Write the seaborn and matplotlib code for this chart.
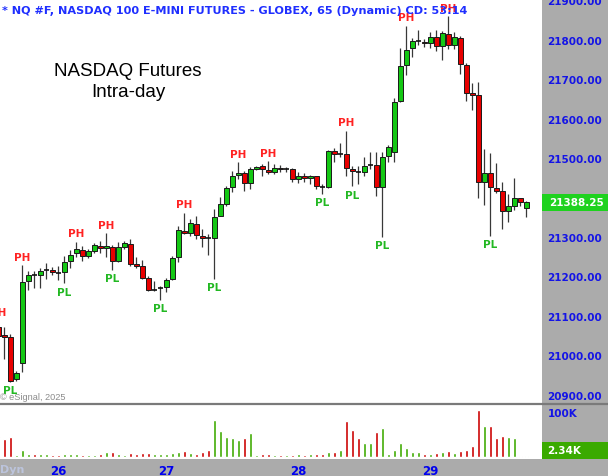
import numpy as np
import pandas as pd
import matplotlib
matplotlib.use("Agg")
import matplotlib.pyplot as plt
import matplotlib.transforms as mtransforms
from matplotlib.patches import Rectangle
from matplotlib.lines import Line2D
import seaborn as sns

# ---------------- data ----------------
bar_index = list(range(-1, 88))
opens = [21072, 21052, 21047, 20941, 20981, 21189, 21204, 21204, 21217, 21217,
         21209, 21212, 21239, 21260, 21267, 21252, 21265, 21277, 21272, 21275,
         21239, 21275, 21282, 21232, 21227, 21196, 21166, 21171, 21174, 21194,
         21250, 21315, 21310, 21333, 21303, 21298, 21298, 21353, 21384, 21427,
         21457, 21462, 21437, 21472, 21480, 21470, 21465, 21475, 21472, 21472,
         21447, 21455, 21450, 21455, 21427, 21427, 21518, 21510, 21510, 21472,
         21465, 21465, 21483, 21483, 21427, 21505, 21516, 21645, 21736, 21779,
         21797, 21794, 21792, 21807, 21784, 21814, 21787, 21804, 21736, 21665,
         21660, 21439, 21462, 21424, 21417, 21366, 21379, 21399, 21374]
highs = [21088, 21072, 21055, 20961, 21229, 21214, 21214, 21222, 21234, 21224,
         21227, 21252, 21267, 21288, 21277, 21270, 21285, 21290, 21310, 21280,
         21288, 21290, 21295, 21250, 21242, 21201, 21189, 21176, 21196, 21252,
         21328, 21361, 21346, 21353, 21320, 21308, 21371, 21402, 21429, 21467,
         21490, 21467, 21478, 21480, 21485, 21492, 21485, 21483, 21478, 21475,
         21465, 21462, 21457, 21455, 21434, 21521, 21526, 21538, 21569, 21480,
         21480, 21503, 21516, 21516, 21516, 21533, 21652, 21779, 21835, 21804,
         21825, 21802, 21819, 21825, 21822, 21860, 21819, 21809, 21741, 21690,
         21693, 21523, 21513, 21488, 21439, 21409, 21450, 21399, 21391]
lows = [21029, 20991, 20933, 20936, 20958, 21166, 21171, 21171, 21194, 21204,
        21190, 21183, 21222, 21250, 21239, 21247, 21260, 21260, 21250, 21217,
        21237, 21270, 21227, 21222, 21194, 21164, 21164, 21141, 21161, 21191,
        21237, 21308, 21303, 21295, 21275, 21255, 21194, 21353, 21379, 21414,
        21447, 21417, 21422, 21470, 21455, 21460, 21460, 21465, 21465, 21439,
        21437, 21439, 21434, 21422, 21409, 21424, 21490, 21503, 21455, 21429,
        21434, 21455, 21472, 21404, 21300, 21490, 21490, 21642, 21711, 21756,
        21787, 21781, 21779, 21771, 21749, 21776, 21776, 21713, 21645, 21622,
        21399, 21381, 21303, 21412, 21320, 21338, 21369, 21379, 21351]
closes = [21050, 21047, 20936, 20956, 21186, 21204, 21204, 21214, 21217, 21212,
          21209, 21237, 21255, 21270, 21252, 21265, 21280, 21272, 21277, 21239,
          21275, 21285, 21232, 21227, 21196, 21166, 21166, 21171, 21191, 21247,
          21318, 21310, 21336, 21305, 21298, 21298, 21351, 21384, 21424, 21455,
          21462, 21437, 21472, 21478, 21472, 21465, 21475, 21472, 21472, 21447,
          21455, 21450, 21455, 21429, 21427, 21518, 21510, 21510, 21475, 21467,
          21465, 21480, 21483, 21427, 21503, 21528, 21642, 21733, 21774, 21797,
          21797, 21792, 21807, 21784, 21817, 21787, 21807, 21739, 21665, 21660,
          21439, 21462, 21427, 21417, 21366, 21379, 21399, 21389, 21388.25]
volumes_k = [43.6, 39.9, 44.4, 3.8, 14.3, 6.8, 6.8, 5.3, 5.3, 3.0,
             3.8, 5.3, 6.8, 5.3, 3.8, 3.0, 3.8, 5.3, 11.3, 9.8,
             6.8, 3.8, 7.5, 5.3, 8.3, 8.3, 5.3, 5.3, 5.3, 7.5,
             11.3, 12.0, 8.3, 6.8, 9.8, 14.3, 82.0, 57.9, 44.4, 42.9,
             38.4, 42.9, 53.4, 3.0, 5.3, 5.3, 3.8, 3.8, 3.0, 3.8,
             5.3, 3.8, 6.8, 6.8, 6.8, 11.3, 11.3, 14.3, 80.5, 59.4,
             41.4, 30.1, 30.1, 54.9, 63.9, 5.3, 14.3, 30.1, 18.8, 9.8,
             9.8, 5.3, 6.8, 8.3, 9.8, 12.8, 8.3, 12.8, 15.8, 23.3,
             104.5, 69.9, 68.4, 41.4, 47.4, 44.4, 42.9, 2.3, 2.34]
vol_dir = list("ddduuuduud" "duuuduudud" "uudddduuuu" "ududdduuuu" "uduuddudud"
               "ududdududd" "duuduuuuuu" "ududududdd" "duddduudu")
ph_index = [-1, 3, 12, 17, 30, 39, 44, 57, 67, 74]
pl_index = [1, 10, 18, 26, 35, 53, 58, 63, 81]
day_pos = [9, 27, 49, 71]
day_labels = ["26", "27", "28", "29"]
price_ticks = [20900, 21000, 21100, 21200, 21300, 21500, 21600, 21700, 21800, 21900]
title = "* NQ #F, NASDAQ 100 E-MINI FUTURES - GLOBEX, 65 (Dynamic) CD: 53:14"

df = pd.DataFrame(dict(i=bar_index, o=opens, h=highs, l=lows, c=closes,
                       v=volumes_k, d=vol_dir))

# ---------------- figure ----------------
sns.set_theme(style="white")
plt.rcParams['font.family'] = ['DejaVu Sans']

W, H = 608, 477
GRAY = '#ABABAB'
BLUE = '#1414E6'
fig = plt.figure(figsize=(W / 100, H / 100), dpi=100, facecolor=GRAY)


def fx(px):
    return px / W


def fy(py):
    return 1 - py / H


ax = fig.add_axes([0, fy(405), fx(542), 405 / H], facecolor='white')
axv = fig.add_axes([0, fy(460), fx(542), 55 / H], facecolor='white', sharex=ax)

# candles
bw = 0.74
up = df.c > df.o
dn = df.c < df.o
dj = df.c == df.o
ax.vlines(df.i, df.l, df.h, color='#383838', lw=0.9, zorder=1)
ax.bar(df.i[up], (df.c - df.o)[up], bottom=df.o[up], width=bw,
       color='#14C814', edgecolor='#1a1a1a', linewidth=0.7, zorder=2)
ax.bar(df.i[dn], (df.o - df.c)[dn], bottom=df.c[dn], width=bw,
       color='#E80000', edgecolor='#1a1a1a', linewidth=0.7, zorder=2)
ax.hlines(df.c[dj], df.i[dj] - bw / 2, df.i[dj] + bw / 2, color='#111111', lw=1.2, zorder=2)

# pivot labels
for k in ph_index:
    r = df[df.i == k].iloc[0]
    ax.annotate("PH", (r.i, r.h), xytext=(0, 2.5), textcoords='offset points',
                ha='center', va='bottom', color='#FF2222', fontsize=7.5,
                fontweight='bold', annotation_clip=False)
for k in pl_index:
    r = df[df.i == k].iloc[0]
    ax.annotate("PL", (r.i, r.l), xytext=(0, -2.5), textcoords='offset points',
                ha='center', va='top', color='#22B822', fontsize=7.5,
                fontweight='bold', annotation_clip=False)

ax.set_xlim(-0.717, 89.6)
ax.set_ylim(20877, 21903)
ax.yaxis.tick_right()
ax.set_yticks(price_ticks)
ax.set_yticklabels([f"{p:.2f}" for p in price_ticks], fontweight='bold')
ax.tick_params(axis='y', length=0, pad=4, labelcolor=BLUE, labelsize=7.5)
ax.tick_params(axis='x', bottom=False, labelbottom=False)
for s in ax.spines.values():
    s.set_visible(False)

# current price box
trans = mtransforms.blended_transform_factory(fig.transFigure, ax.transData)
last = df.c.iloc[-1]
ax.add_patch(Rectangle((fx(542), last - 21.5), fx(66), 43, transform=trans,
                       facecolor='#1ED21E', edgecolor='none', clip_on=False, zorder=5))
ax.text(fx(549), last, f"{last:.2f}", transform=trans, color='white',
        fontweight='bold', fontsize=7.5, va='center', ha='left', clip_on=False, zorder=6)

# volume
sns.barplot(data=df, x='i', y='v', hue='d', palette={'u': '#3DAA00', 'd': '#CC0000'},
            native_scale=True, width=0.56, saturation=1, dodge=False,
            errorbar=None, legend=False, ax=axv)
axv.set_ylim(-5.2, 118.9)
axv.set_xlim(-0.717, 89.6)
axv.yaxis.tick_right()
axv.set_yticks([100])
axv.set_yticklabels(["100K"], fontweight='bold')
axv.tick_params(axis='y', length=0, pad=4, labelcolor=BLUE, labelsize=7.5)
axv.set_xticks(day_pos)
axv.set_xticklabels(day_labels, fontweight='bold')
axv.tick_params(axis='x', length=0, pad=3.5, labelcolor='#0000EE', labelsize=8.5)
axv.set_xlabel("")
axv.set_ylabel("")
for s in axv.spines.values():
    s.set_visible(False)

# last volume box
fig.patches.append(Rectangle((fx(542), fy(460)), fx(66), 17 / H, transform=fig.transFigure,
                             facecolor='#3AAA00', edgecolor='none', zorder=5))
fig.text(fx(547), fy(451.5), f"{volumes_k[-1]:.2f}K", color='white', fontweight='bold',
         fontsize=7.5, va='center', ha='left', zorder=6)

# separator
fig.add_artist(Line2D([0, 1], [fy(405), fy(405)], transform=fig.transFigure,
                      color='#7A7A7A', lw=1.6))

# texts
fig.text(fx(2), fy(11), title, color='#1F2FFF', fontweight='bold', fontsize=8.15,
         va='center', ha='left')
fig.text(fx(128), fy(72), "NASDAQ Futures", ha='center', va='center', fontsize=13.5,
         family=['Liberation Sans', 'DejaVu Sans'], color='black')
fig.text(fx(128), fy(93), "Intra-day", ha='center', va='center', fontsize=13.5,
         family=['Liberation Sans', 'DejaVu Sans'], color='black')
fig.text(0, fy(398), "© eSignal, 2025", ha='left', va='center', fontsize=6.6,
         family=['Liberation Sans', 'DejaVu Sans'], color='#8C8C8C')
fig.text(0, fy(470), "Dyn", ha='left', va='center', fontsize=8, fontweight='bold',
         color='#BCC4DC')

fig.savefig("out.png", dpi=100, facecolor=GRAY)
